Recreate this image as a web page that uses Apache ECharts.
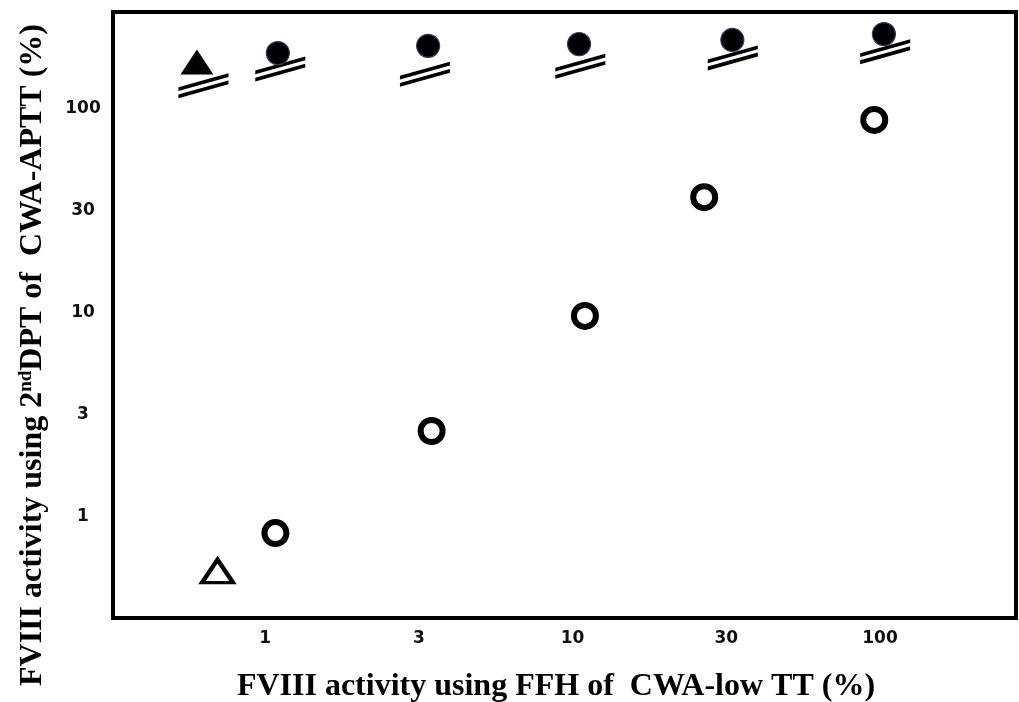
<!DOCTYPE html>
<html>
<head>
<meta charset="utf-8">
<script src="https://cdn.jsdelivr.net/npm/echarts@6/dist/echarts.min.js"></script>
<style>
html, body { margin: 0; padding: 0; background: #fff; }
#main { width: 1019px; height: 702px; }
</style>
</head>
<body>
<div id="main"></div>
<script>
// one label per half decade: 10^0, 10^0.5, 10^1, 10^1.5, 10^2
var tickLabels = ['1', '3', '10', '30', '100'];

// [FFH of CWA-low TT, 2nd DPT of CWA-APTT], both in %
var openCircles = [[1.08, 0.83], [3.48, 2.63], [10.97, 9.65], [26.8, 36.9], [95.8, 88.3]];
var openTriangle = [[0.70, 0.54]];
// filled marks sit above the measurable range of CWA-APTT
var filledTriangle = [[0.60, 170]];
var filledCircles = [[1.10, 188], [3.39, 204], [10.5, 208], [33.1, 218], [103, 233]];
// the "//" break marks drawn under each filled mark
var breakMarks = [[0.63, 130], [1.12, 157], [3.31, 148], [10.6, 162], [33.2, 178], [104, 191]];

function halfDecadeLabel(v) {
    var e = 2 * Math.log(v) / Math.LN10;
    var k = Math.round(e);
    if (Math.abs(e - k) > 0.01) return '';
    return tickLabels[k] || '';
}

var tickFont = { fontFamily: 'DejaVu Sans', fontWeight: 'bold', fontSize: 17, color: '#111' };
var titleFont = { fontFamily: 'Liberation Serif', fontWeight: 'bold', fontSize: 32, color: '#000' };

var myChart = echarts.init(document.getElementById('main'));

var option = {
    animation: false,
    backgroundColor: '#fff',
    grid: {
        left: 113, right: 3, top: 12, bottom: 84,
        show: true, borderWidth: 4, borderColor: '#000',
        containLabel: false, outerBoundsMode: 'none'
    },
    xAxis: {
        type: 'log', logBase: Math.sqrt(10), min: 0.32, max: 277,
        axisLine: { show: false }, axisTick: { show: false }, splitLine: { show: false },
        axisLabel: Object.assign({ formatter: halfDecadeLabel, margin: 12 }, tickFont),
        name: 'FVIII activity using FFH of  CWA-low TT (%)',
        nameLocation: 'middle', nameGap: 53,
        nameTextStyle: Object.assign({ padding: [0, 17, 0, 0] }, titleFont)
    },
    yAxis: {
        type: 'log', logBase: Math.sqrt(10), min: 0.318, max: 299,
        axisLine: { show: false }, axisTick: { show: false }, splitLine: { show: false },
        axisLabel: Object.assign({ formatter: halfDecadeLabel, margin: 30, align: 'center' }, tickFont),
        name: 'FVIII activity using 2{sup|nd}DPT of  CWA-APTT (%)',
        nameLocation: 'middle', nameGap: 64,
        nameTextStyle: Object.assign({
            padding: [0, 80, 0, 0],
            rich: {
                sup: { fontFamily: 'Liberation Serif', fontWeight: 'bold', fontSize: 19, verticalAlign: 'top', color: '#000' }
            }
        }, titleFont)
    },
    series: [
        {
            name: 'break', type: 'scatter', data: breakMarks,
            symbol: 'path://M0,14 L50,0 L50,3.8 L0,17.8 Z M0,21.2 L50,7.2 L50,11 L0,25 Z',
            symbolSize: [50, 25],
            itemStyle: { color: '#000', opacity: 1 }, silent: true
        },
        {
            name: 'FFH open', type: 'scatter', data: openCircles,
            symbol: 'circle', symbolSize: 22,
            itemStyle: { color: '#fff', borderColor: '#000', borderWidth: 6, opacity: 1 }
        },
        {
            name: 'open triangle', type: 'scatter', data: openTriangle,
            symbol: 'triangle', symbolSize: [31, 23],
            itemStyle: { color: '#fff', borderColor: '#000', borderWidth: 4, opacity: 1 }
        },
        {
            name: 'filled triangle', type: 'scatter', data: filledTriangle,
            symbol: 'triangle', symbolSize: [33, 25],
            itemStyle: { color: '#000', opacity: 1 }
        },
        {
            name: 'filled circles', type: 'scatter', data: filledCircles,
            symbol: 'circle', symbolSize: 23,
            itemStyle: { color: '#000', borderColor: '#2d3f66', borderWidth: 1.2, opacity: 1 }
        }
    ]
};

myChart.setOption(option);
</script>
</body>
</html>
